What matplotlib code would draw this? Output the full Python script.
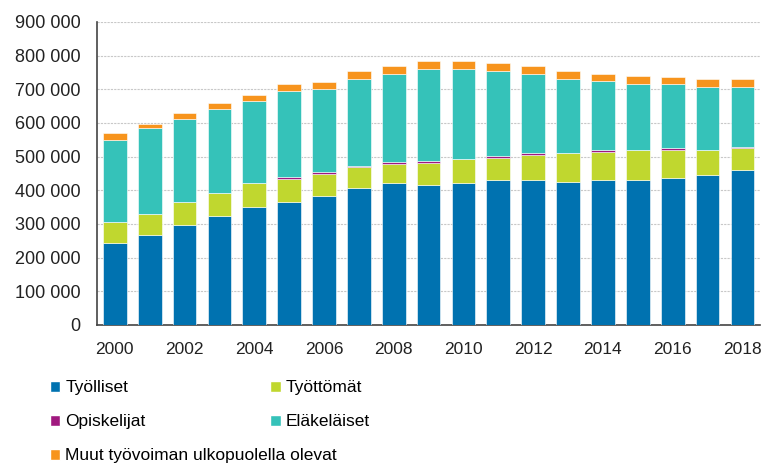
import numpy as np
import matplotlib
matplotlib.use("Agg")
import matplotlib.pyplot as plt
from matplotlib.patches import Patch
from matplotlib.ticker import FuncFormatter

# Tiedot luettu kuvasta (henkilöä)
vuodet = list(range(2000, 2019))
tyolliset = [244000, 268000, 296000, 325000, 350000, 364000, 383000, 406000, 421000, 416000,
             421000, 430000, 430000, 425000, 430000, 430000, 435000, 445000, 459000]
tyottomat = [61000, 62000, 68000, 66000, 71000, 70000, 66000, 62000, 58000, 66000,
             71000, 67000, 75000, 86000, 85000, 90000, 85000, 75000, 66000]
opiskelijat = [0, 0, 0, 0, 0, 5000, 5000, 5000, 5000, 5000,
               0, 5000, 5000, 0, 5000, 0, 5000, 0, 5000]
elakelaiset = [245000, 254000, 248000, 250000, 244000, 255000, 248000, 257000, 261000, 273000,
               268000, 252000, 235000, 219000, 205000, 197000, 192000, 187000, 177000]
muut = [19000, 14000, 18000, 18000, 18000, 23000, 19000, 25000, 24000, 24000,
        24000, 25000, 24000, 25000, 20000, 23000, 18000, 23000, 23000]

sarjat = ["Työlliset", "Työttömät", "Opiskelijat", "Eläkeläiset",
          "Muut työvoiman ulkopuolella olevat"]
arvot = [tyolliset, tyottomat, opiskelijat, elakelaiset, muut]
varit = ["#0072b0", "#c0d72f", "#a0197f", "#35c2b9", "#f7941d"]

plt.rcParams["font.family"] = ["Liberation Sans", "DejaVu Sans"]

fig = plt.figure(figsize=(7.64, 4.66), dpi=100)
ax = fig.add_axes([0.127, 0.3026, 0.868, 0.6504])

pohja = np.zeros(len(vuodet))
for nimi, arvo, vari in zip(sarjat, arvot, varit):
    arvo = np.array(arvo, dtype=float)
    ax.bar(vuodet, arvo, bottom=pohja, width=0.68, color=vari,
           edgecolor="white", linewidth=0.4, zorder=3)
    pohja += arvo

ax.set_xlim(1999.49, 2018.51)
ax.set_ylim(0, 900000)
ax.set_yticks(np.arange(0, 900001, 100000))
ax.yaxis.set_major_formatter(FuncFormatter(lambda v, p: f"{int(v):,}".replace(",", " ")))
ax.set_xticks(vuodet[::2])

ax.grid(axis="y", color="#c8c8c8", linestyle=(0, (2, 1)), linewidth=0.8, zorder=0)
ax.tick_params(length=0)
ax.tick_params(axis="y", labelsize=13, colors="#222222", pad=12)
ax.tick_params(axis="x", labelsize=12.5, colors="#222222", pad=12)

for s in ["top", "right"]:
    ax.spines[s].set_visible(False)
ax.spines["left"].set_color("#444444")
ax.spines["bottom"].set_color("#444444")
ax.spines["left"].set_linewidth(1.2)
ax.spines["bottom"].set_linewidth(1.2)

# Selite kahdessa sarakkeessa
kahvat = [Patch(facecolor=c, edgecolor="white") for c in varit]
asetukset = dict(loc="upper left", frameon=False, handlelength=0.6, handleheight=0.6,
                 handletextpad=0.3, labelspacing=1.1, prop={"size": 12.5},
                 borderaxespad=0, borderpad=0)
fig.legend([kahvat[0], kahvat[2], kahvat[4]], [sarjat[0], sarjat[2], sarjat[4]],
           bbox_to_anchor=(0.065, 0.184), **asetukset)
fig.legend([kahvat[1], kahvat[3]], [sarjat[1], sarjat[3]],
           bbox_to_anchor=(0.354, 0.184), **asetukset)

fig.savefig("out.png", dpi=100)
